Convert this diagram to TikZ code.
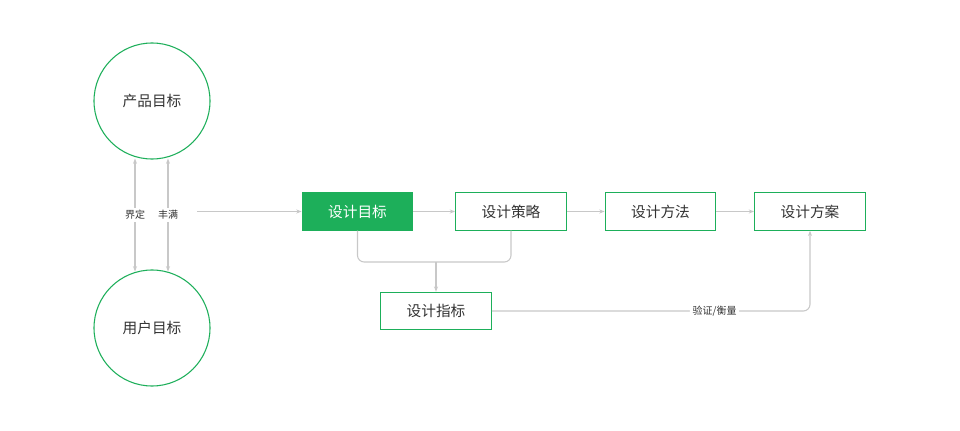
\documentclass[tikz,border=0pt]{standalone}
\usepackage{fontspec}
\setmainfont{Noto Sans CJK SC}
\usetikzlibrary{positioning,arrows.meta}
\definecolor{pgreen}{HTML}{1DAF5A}
\definecolor{pline}{HTML}{C8C8C8}
\definecolor{ptext}{HTML}{333333}
\begin{document}
\begin{tikzpicture}[x=0.75pt,y=-0.75pt,
    goal/.style={circle,draw=pgreen,thick,minimum size=87pt,inner sep=0pt,text=ptext,font=\fontsize{11}{13}\selectfont},
    stepbox/.style={draw=pgreen,thick,minimum width=83pt,minimum height=28pt,inner sep=0pt,text=ptext,font=\fontsize{11}{13}\selectfont},
    link/.style={draw=pline,thick,-{Stealth[length=4pt,width=3pt]}},
    tag/.style={text=ptext,font=\fontsize{7.5}{9}\selectfont,fill=white,inner sep=2pt}]
\useasboundingbox[fill=white] (0,0) rectangle (960,431);
% circles
\node[goal] (prod) at (152,101) {产品目标};
\node[goal] (user) at (152,328) {用户目标};
% boxes
\node[stepbox,fill=pgreen,text=white] (aim) at (357.5,211.5) {设计目标};
\node[stepbox] (plan) at (511,211.5) {设计策略};
\node[stepbox] (way) at (660.5,211.5) {设计方法};
\node[stepbox] (case) at (810,211.5) {设计方案};
\node[stepbox] (index) at (436,311) {设计指标};
\coordinate (src) at (197,211.5);
% between circles
\draw[link,{Stealth[length=4pt,width=3pt]}-{Stealth[length=4pt,width=3pt]}] (prod.south)+(-17,-1) -- ++(-17,112)
  node[tag,midway] (def) {界定};
\draw[link,{Stealth[length=4pt,width=3pt]}-{Stealth[length=4pt,width=3pt]}] (prod.south)+(16,-1) -- ++(16,112)
  node[tag,midway] (full) {丰满};
%% flow
\draw[link] (src) -- (aim);
\draw[link] (aim) -- (plan);
\draw[link] (plan) -- (way);
\draw[link] (way) -- (case);
\draw[draw=pline,thick,rounded corners=5pt] (aim.south) |- (436,262) -| (plan.south);
\draw[link] (436,262) -- (index.north);
\draw[link,rounded corners=5pt] (index.east) -| (case.south)
  node[tag,pos=0.35] (check) {验证/衡量};
\end{tikzpicture}
\end{document}
